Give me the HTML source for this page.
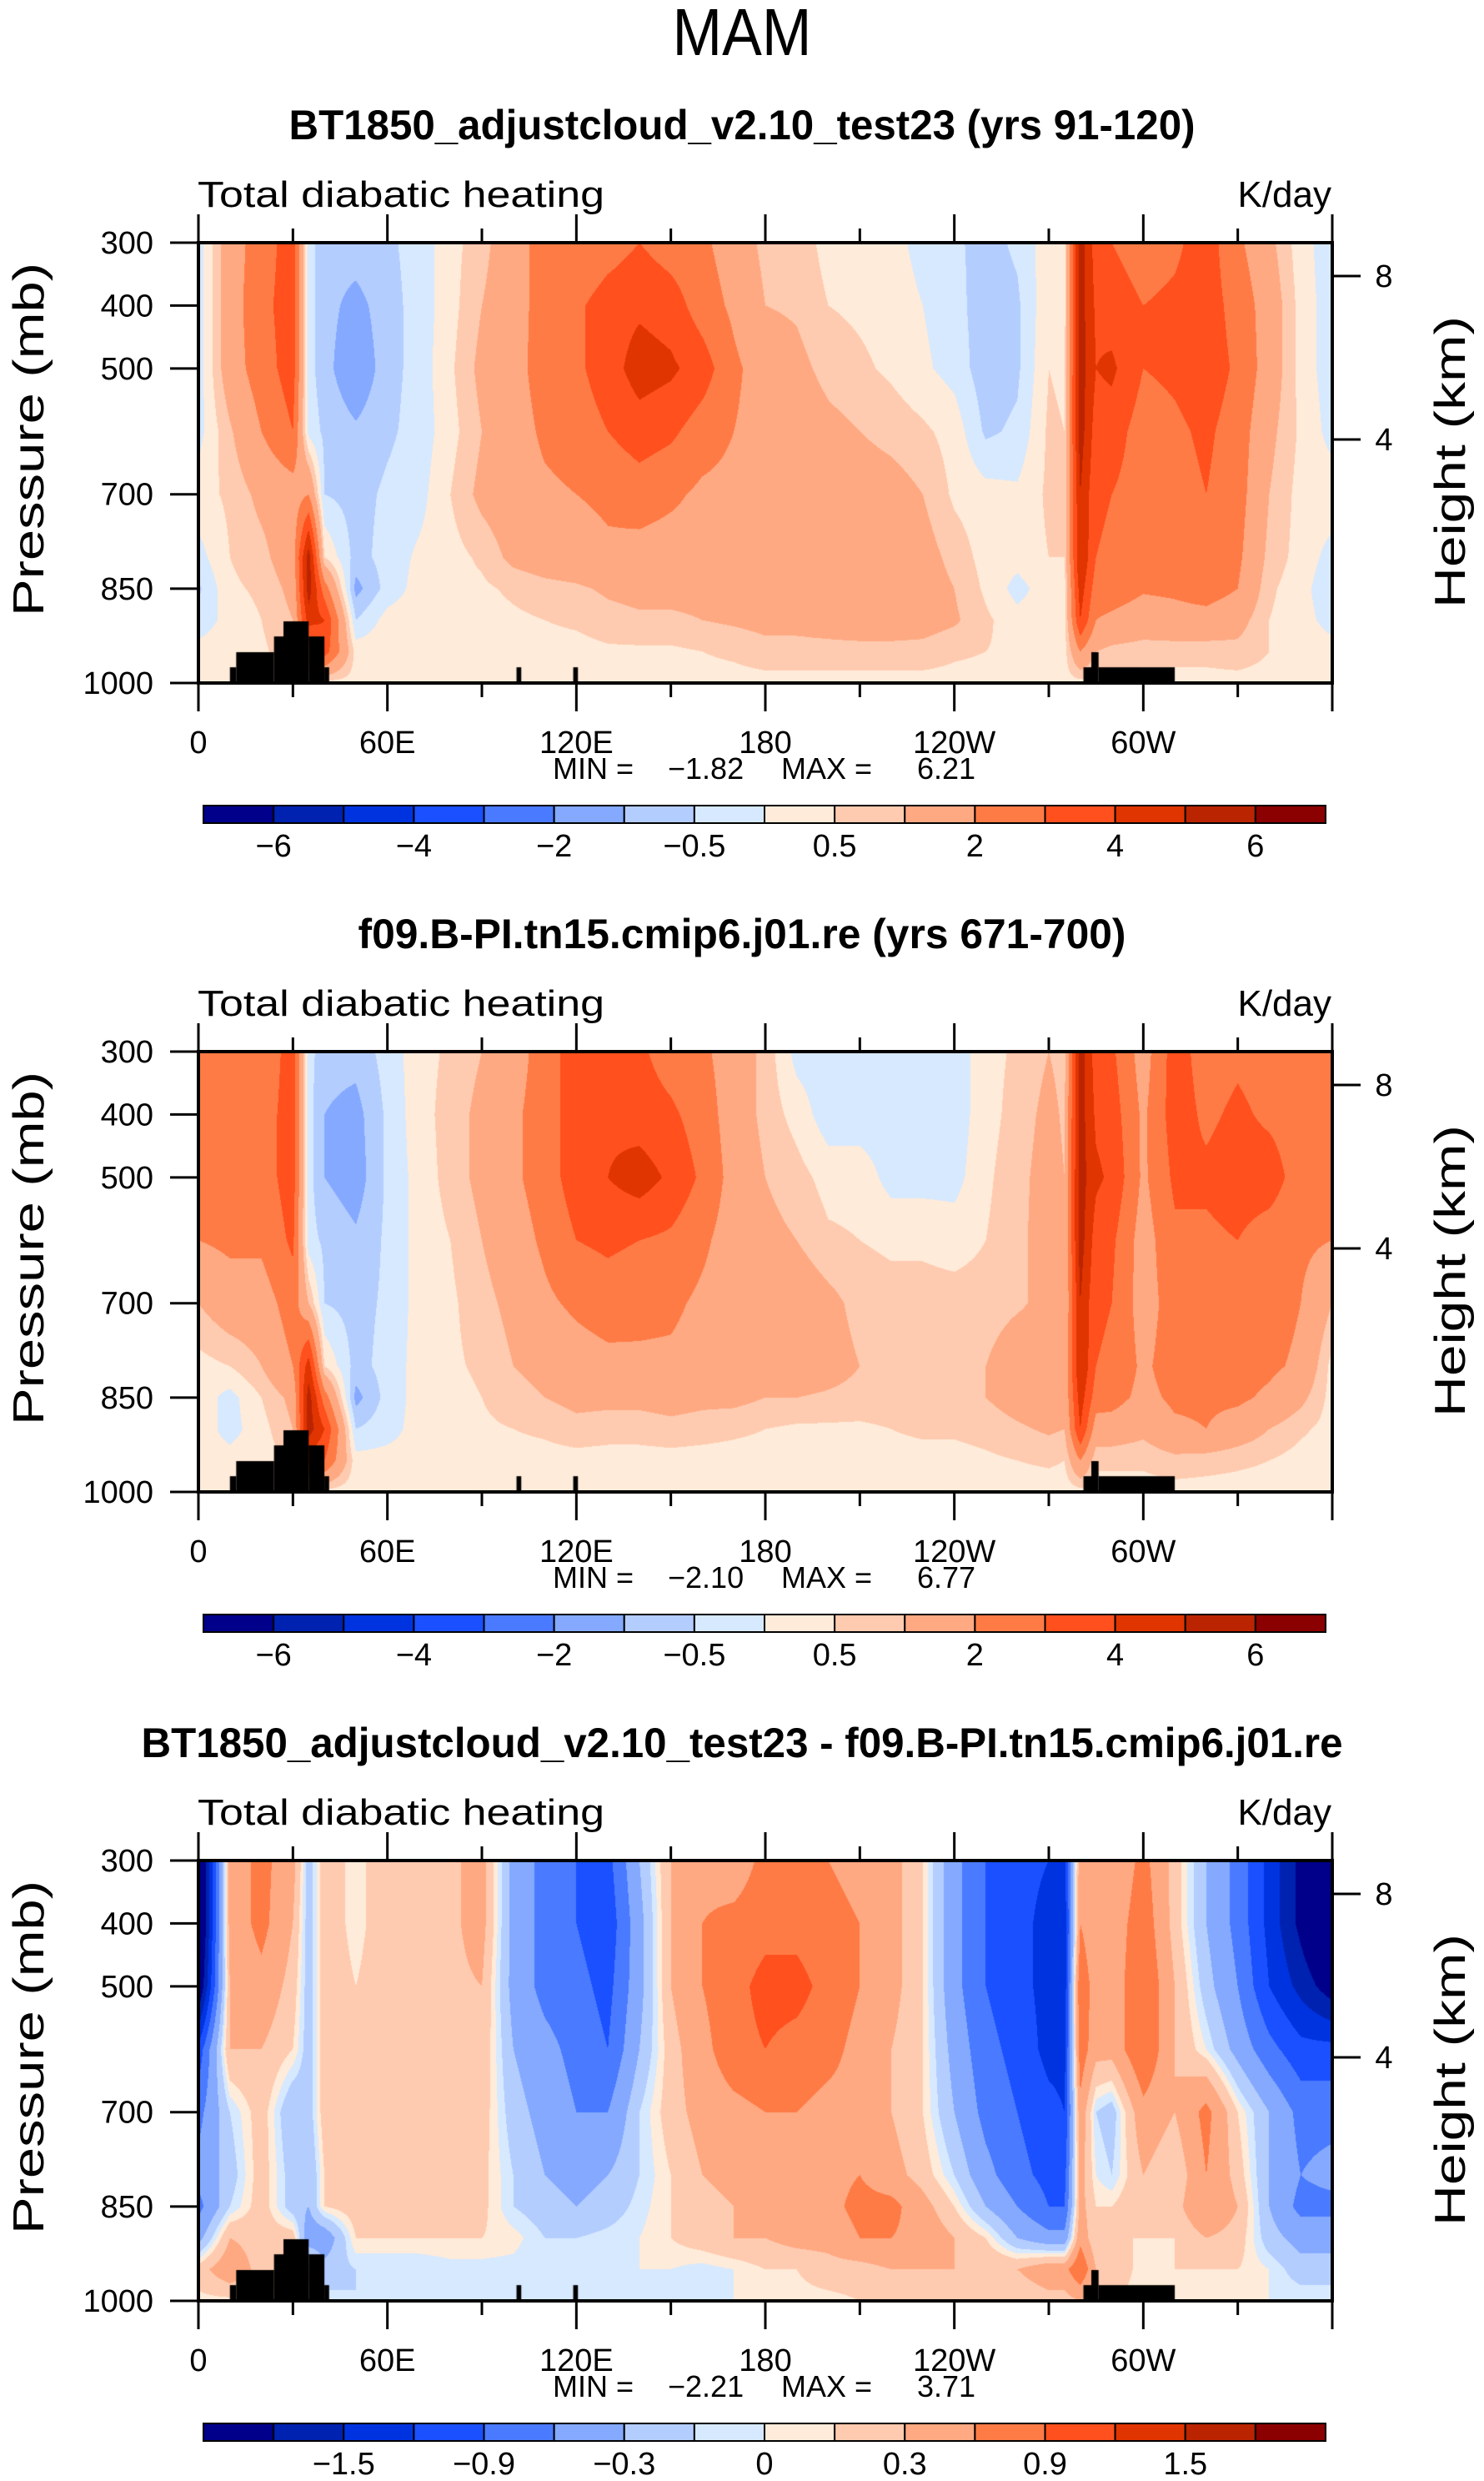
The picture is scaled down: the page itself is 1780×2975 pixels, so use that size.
<!DOCTYPE html>
<html><head><meta charset="utf-8">
<style>
html,body{margin:0;padding:0;background:#fff;}
#wrap{position:relative;width:1780px;height:2975px;overflow:hidden;background:#fff;}
canvas{position:absolute;}
svg{position:absolute;left:0;top:0;}
text{font-family:"Liberation Sans",sans-serif;fill:#000;}
</style></head>
<body>
<div id="wrap">
<canvas id="c0"></canvas>
<canvas id="c1"></canvas>
<canvas id="c2"></canvas>
<svg id="ov" width="1780" height="2975"></svg>
</div>
<script>
const lons = [0,10,20,30,35,40,50,60,70,80,90,100,110,120,130,140,150,160,170,180,190,200,210,220,230,240,250,260,270,275,280,285,290,300,310,320,330,340,350,360];
const levels = [300,400,500,600,700,800,850,900,950,1000];
const field1 = [
[-0.3,1.5,2.5,3.5,-0.3,-0.8,-0.7,-0.6,-0.3,0.3,0.8,1.5,2.5,2.0,2.5,3.0,2.5,2.2,1.5,0.8,0.8,0.3,0.3,0.2,-0.2,-0.4,-0.7,-0.4,0.3,0.3,5.5,3.5,3.0,2.5,2.8,3.5,2.2,1.2,0.2,-0.3],
[-0.3,1.5,2.7,3.5,-0.3,-0.8,-1.2,-0.7,-0.3,0.3,1.0,1.5,2.5,2.8,3.5,3.8,3.5,2.5,1.8,1.0,0.9,0.5,0.4,0.3,0.0,-0.3,-0.8,-0.6,0.4,0.3,5.5,3.8,3.5,3.0,3.2,3.5,2.6,1.5,0.3,-0.3],
[-0.3,1.5,2.5,3.5,-0.3,-0.8,-1.5,-0.7,-0.3,0.4,1.2,1.6,2.5,2.8,3.5,4.5,4.2,3.5,2.2,1.5,1.2,0.8,0.6,0.4,0.1,-0.2,-0.8,-0.6,0.5,0.4,5.5,4.0,4.2,3.0,3.2,3.6,2.8,1.5,0.3,-0.3],
[-0.2,0.9,2.0,3.0,-0.2,-0.6,-0.9,-0.6,-0.3,0.3,1.0,1.5,2.2,2.5,3.0,3.5,3.2,2.5,2.0,1.6,1.5,1.2,1.0,0.8,0.6,0.3,-0.6,-0.4,0.6,0.5,5.5,3.5,3.5,2.5,2.8,3.2,2.5,1.2,0.4,-0.2],
[0.3,0.6,1.2,1.5,2.0,-0.5,-0.7,-0.4,-0.2,0.5,1.2,1.5,1.8,2.0,2.2,2.5,2.2,1.8,1.7,1.6,1.6,1.5,1.4,1.3,1.0,0.4,0.2,0.1,0.6,0.6,5.0,3.2,3.0,2.5,2.6,3.0,2.4,1.0,0.3,0.3],
[-0.2,0.5,0.8,1.5,5.5,0.5,-0.7,-0.3,0.1,0.3,0.6,1.2,1.4,1.5,1.8,1.6,1.5,1.5,1.5,1.5,1.6,1.6,1.6,1.5,1.3,0.8,0.3,0.2,0.5,0.5,5.0,3.0,2.8,2.3,2.5,2.8,2.2,0.8,0.3,-0.2],
[-0.6,0.4,0.6,1.2,5.5,2.5,-1.2,-0.3,0.2,0.3,0.4,0.6,0.8,0.9,1.1,1.2,1.2,1.2,1.4,1.5,1.5,1.6,1.6,1.6,1.4,1.0,0.4,-0.2,0.3,0.3,4.5,2.5,2.5,2.1,2.2,2.5,2.0,0.6,0.2,-0.4],
[-0.3,0.2,0.5,1.0,4.5,4.0,-0.5,0.2,0.3,0.3,0.3,0.4,0.5,0.6,0.8,0.9,0.9,1.0,1.1,1.2,1.2,1.3,1.4,1.4,1.3,1.1,0.6,0.2,0.3,0.3,4.0,2.0,1.8,1.5,1.6,1.6,1.3,0.5,0.2,-0.2],
[0.2,0.3,0.4,0.8,1.5,3.5,0.3,0.3,0.3,0.3,0.3,0.3,0.3,0.3,0.4,0.4,0.4,0.5,0.6,0.8,0.8,0.8,0.8,0.8,0.8,0.6,0.5,0.4,0.3,0.3,2.0,1.0,0.8,0.7,0.7,0.7,0.8,0.5,0.3,0.2],
[0.3,0.3,0.3,0.3,0.3,0.3,0.3,0.3,0.3,0.3,0.3,0.3,0.3,0.3,0.3,0.3,0.3,0.3,0.3,0.3,0.3,0.3,0.3,0.3,0.3,0.3,0.3,0.3,0.3,0.3,0.3,0.3,0.3,0.3,0.3,0.3,0.3,0.3,0.3,0.3]
];
const field2 = [
[2.5,2.5,2.2,3.5,-0.3,-0.8,-0.8,-0.3,0.3,0.6,1.0,1.5,2.5,3.5,3.5,3.2,2.5,2.2,1.5,0.8,-0.2,-0.3,-0.3,-0.3,-0.3,-0.3,0.3,0.6,1.0,0.8,5.5,3.5,3.2,1.5,3.5,2.5,2.8,2.5,2.0,2.0],
[3.0,2.6,2.5,3.5,-0.3,-1.0,-1.2,-0.4,0.3,0.7,1.2,1.8,2.5,3.5,3.8,3.5,3.2,2.5,1.5,0.8,0.3,-0.3,-0.3,-0.3,-0.3,-0.3,0.3,0.7,1.2,0.9,5.5,3.8,3.5,1.8,3.5,2.8,3.2,2.8,2.5,2.5],
[2.5,2.6,2.5,3.5,-0.3,-1.0,-1.3,-0.4,0.2,0.7,1.2,1.8,2.5,3.5,4.0,4.5,3.8,2.8,1.6,1.0,0.7,0.3,0.3,-0.2,-0.2,-0.2,0.4,0.8,1.3,1.0,5.5,4.2,3.8,1.8,3.2,3.2,3.5,3.5,2.5,2.5],
[2.0,2.2,2.2,3.2,-0.3,-0.6,-0.9,-0.4,0.2,0.5,1.0,1.5,2.2,3.0,3.2,3.0,2.8,2.2,1.5,1.2,1.0,0.6,0.5,0.4,0.4,0.3,0.5,0.8,1.4,1.0,5.5,3.5,3.2,1.5,2.8,2.8,3.0,2.5,2.2,2.0],
[1.0,1.5,1.5,2.5,1.0,-0.5,-0.7,-0.4,0.2,0.4,0.8,1.2,1.8,2.2,2.5,2.3,2.2,1.8,1.5,1.5,1.5,1.2,0.8,0.7,0.7,0.7,0.7,0.9,1.2,1.0,5.0,3.2,3.0,1.5,2.5,2.6,2.6,2.5,2.0,1.0],
[0.3,0.5,1.0,2.0,4.5,0.5,-0.7,-0.3,0.2,0.4,0.6,1.0,1.2,1.5,1.7,1.8,1.8,1.6,1.5,1.5,1.5,1.3,1.0,0.9,0.9,0.9,1.0,1.5,1.5,1.2,5.0,3.0,2.8,1.8,2.5,2.5,2.5,2.2,1.8,0.3],
[0.3,-0.2,0.5,1.2,5.5,2.5,-1.2,-0.3,0.2,0.3,0.5,0.8,1.0,1.2,1.2,1.2,1.3,1.2,1.2,1.0,1.0,0.9,0.8,0.8,0.8,0.9,1.0,1.3,1.5,1.2,4.5,2.5,2.4,1.7,2.2,2.2,2.2,1.8,1.2,0.3],
[0.3,-0.2,0.3,1.0,5.5,4.0,-0.5,-0.2,0.2,0.3,0.4,0.5,0.6,0.8,0.7,0.7,0.8,0.7,0.6,0.5,0.4,0.4,0.4,0.5,0.6,0.6,0.7,0.9,1.1,1.0,4.0,1.5,1.5,1.2,1.8,2.0,1.5,1.0,0.6,0.3],
[0.2,0.2,0.3,0.5,3.5,3.0,0.2,0.2,0.2,0.2,0.3,0.3,0.3,0.3,0.3,0.3,0.3,0.3,0.3,0.3,0.3,0.3,0.3,0.3,0.3,0.3,0.4,0.5,0.6,0.5,2.0,0.6,0.6,0.6,0.8,0.7,0.6,0.5,0.3,0.2],
[0.2,0.2,0.2,0.2,0.3,0.3,0.2,0.2,0.2,0.2,0.2,0.2,0.2,0.2,0.2,0.2,0.2,0.2,0.2,0.2,0.2,0.2,0.2,0.2,0.2,0.2,0.2,0.2,0.2,0.2,0.3,0.3,0.3,0.3,0.3,0.3,0.3,0.3,0.2,0.2]
];
const field3 = [
[-2.5,0.4,0.7,0.4,-0.2,0.2,0.05,0.2,0.2,0.25,0.4,-0.4,-0.7,-0.9,-1.0,-0.3,0.3,0.5,0.4,0.7,0.7,0.6,0.5,0.4,0.1,-0.5,-0.9,-1.1,-1.2,-1.3,0.5,0.3,0.3,0.7,0.2,-0.3,-0.7,-1.3,-1.9,-2.5],
[-2.5,0.4,0.7,0.3,-0.2,0.2,0.05,0.2,0.2,0.25,0.4,-0.4,-0.7,-0.9,-1.1,-0.4,0.3,0.6,0.7,0.8,0.8,0.7,0.6,0.4,0.1,-0.5,-0.9,-1.1,-1.3,-1.4,0.6,0.3,0.4,0.8,0.2,-0.3,-0.7,-1.3,-1.9,-2.5],
[-2.2,0.3,0.5,0.2,-0.2,0.2,0.1,0.2,0.2,0.25,0.3,-0.4,-0.7,-0.8,-1.0,-0.4,0.3,0.6,0.8,1.0,1.0,0.8,0.6,0.4,0.1,-0.5,-0.9,-1.1,-1.3,-1.4,0.9,0.4,0.4,0.9,0.3,-0.2,-0.6,-1.2,-1.6,-2.0],
[-1.1,0.3,0.3,0.1,-0.2,0.2,0.15,0.2,0.2,0.2,0.25,-0.3,-0.5,-0.7,-0.9,-0.3,0.2,0.5,0.8,0.9,0.8,0.7,0.5,0.3,0.1,-0.4,-0.8,-1.0,-1.3,-1.3,0.8,0.4,0.4,0.9,0.3,0.0,-0.4,-0.8,-1.1,-1.1],
[-0.7,-0.1,0.2,-0.3,-0.2,0.2,0.2,0.2,0.25,0.2,0.2,-0.2,-0.4,-0.6,-0.6,-0.1,0.2,0.4,0.5,0.6,0.6,0.5,0.5,0.3,0.1,-0.3,-0.7,-0.9,-1.1,-1.2,0.5,-0.1,-0.2,0.5,0.3,0.7,0.1,-0.3,-0.7,-0.7],
[-0.5,-0.2,0.2,-0.2,-0.3,0.1,0.2,0.2,0.2,0.2,0.15,-0.1,-0.3,-0.4,-0.3,-0.1,0.1,0.3,0.4,0.5,0.5,0.5,0.6,0.4,0.2,-0.1,-0.5,-0.8,-1.0,-1.0,0.4,0.0,-0.1,0.3,0.1,0.6,0.2,-0.3,-0.6,-0.5],
[-0.7,-0.1,0.2,-0.2,-0.3,0.1,0.2,0.2,0.2,0.2,0.15,-0.1,-0.2,-0.3,-0.2,-0.05,0.1,0.2,0.3,0.4,0.4,0.5,0.7,0.7,0.4,0.1,-0.3,-0.6,-0.9,-0.9,0.4,0.1,0.1,0.3,0.2,0.6,0.3,-0.3,-0.7,-0.7],
[-0.4,0.3,0.2,0.2,-0.5,-0.5,0.1,0.1,0.1,0.1,0.1,0.05,-0.1,-0.1,-0.05,0.0,0.1,0.2,0.3,0.3,0.4,0.4,0.6,0.6,0.5,0.3,0.1,-0.3,-0.5,-0.5,0.5,0.1,0.1,0.1,0.1,0.3,0.2,-0.2,-0.4,-0.4],
[0.2,0.5,0.2,0.2,0.2,-0.2,-0.1,-0.1,-0.1,-0.05,-0.05,-0.05,-0.1,-0.1,-0.05,0.0,0.0,-0.05,0.0,0.1,0.1,0.2,0.2,0.3,0.3,0.3,0.3,0.3,0.5,0.5,0.9,0.3,0.2,0.05,0.1,0.1,0.1,0.0,-0.2,-0.2],
[0.05,0.05,0.05,0.05,0.0,-0.05,-0.1,-0.1,-0.1,-0.1,-0.1,-0.1,-0.1,-0.1,-0.1,-0.1,-0.05,-0.05,0.0,0.05,0.05,0.05,0.1,0.1,0.1,0.1,0.1,0.1,0.2,0.2,0.3,0.1,0.1,0.05,0.05,0.05,0.05,0.0,0.0,0.0]
];
const topoLonStart = [10,12,24,27,35,40,101,119,281,283.5,285.8];
const topoLonEnd   = [12,24,27,35,40,41.5,102.5,120.5,283.5,285.8,310];
const topoTopP     = [975,951,926,902,926,975,975,975,975,951,975];
const bounds1 = [-6,-5,-4,-3,-2,-1,-0.5,0,0.5,1,2,3,4,5,6];
const bounds3 = [-1.8,-1.5,-1.2,-0.9,-0.6,-0.3,-0.1,0,0.1,0.3,0.6,0.9,1.2,1.5,1.8];
const cbLabels1 = ["−6","−4","−2","−0.5","0.5","2","4","6"];
const cbLabelIdx1 = [0,2,4,6,8,10,12,14];
const cbLabels3 = ["−1.5","−0.9","−0.3","0","0.3","0.9","1.5"];
const cbLabelIdx3 = [1,3,5,7,9,11,13];
const xTickLons = [0,60,120,180,240,300];
const xTickLabels = ["0","60E","120E","180","120W","60W"];
const pTicks = [300,400,500,700,850,1000];
const titles = ["BT1850_adjustcloud_v2.10_test23 (yrs 91-120)","f09.B-PI.tn15.cmip6.j01.re (yrs 671-700)","BT1850_adjustcloud_v2.10_test23 - f09.B-PI.tn15.cmip6.j01.re"];
const minVals = ["−1.82","−2.10","−2.21"];
const maxVals = ["6.21","6.77","3.71"];

const colors = ["#00008a","#0022b0","#0033e0","#1a50ff","#4a7aff","#84a9ff","#b4cdff","#d6e9ff","#ffebd9","#ffcbb0","#ffa982","#ff7b46","#ff501d","#e03500","#ba2400","#8b0000"];
const rgb = colors.map(c=>[parseInt(c.slice(1,3),16),parseInt(c.slice(3,5),16),parseInt(c.slice(5,7),16)]);

const X0=238, X1=1598, PH=528, DY=970;
const Y0s=[291,291+DY,291+2*DY];
function xOf(lon){return X0+(lon/360)*(X1-X0);}
function yOf(p,k){return Y0s[k]+(p-300)/700*PH;}
function binOf(v,b){let i=0;while(i<b.length&&v>=b[i])i++;return i;}

const NS="http://www.w3.org/2000/svg";
const ov=document.getElementById('ov');
function el(tag,attrs,parent){const e=document.createElementNS(NS,tag);for(const k in attrs)e.setAttribute(k,attrs[k]);(parent||ov).appendChild(e);return e;}
function txt(s,attrs,parent){const e=el('text',attrs,parent);e.textContent=s;return e;}

const fields=[field1,field2,field3];
const bset=[bounds1,bounds1,bounds3];

for(let k=0;k<3;k++){
  const cv=document.getElementById('c'+k);
  const W=X1-X0,H=PH;
  cv.width=W;cv.height=H;cv.style.left=X0+'px';cv.style.top=Y0s[k]+'px';
  const ctx=cv.getContext('2d');
  const img=ctx.createImageData(W,H);
  const F=fields[k],B=bset[k];
  const colI=new Int32Array(W), colS=new Float32Array(W);
  for(let px=0;px<W;px++){
    const lon=(px+0.5)/W*360;
    let i=0;while(i<lons.length-2&&lon>lons[i+1])i++;
    colI[px]=i;colS[px]=(lon-lons[i])/(lons[i+1]-lons[i]);
  }
  for(let py=0;py<H;py++){
    const p=300+(py+0.5)/H*700;
    let j=0;while(j<levels.length-2&&p>levels[j+1])j++;
    const t=(p-levels[j])/(levels[j+1]-levels[j]);
    for(let px=0;px<W;px++){
      const i=colI[px],s=colS[px];
      const v=(1-t)*((1-s)*F[j][i]+s*F[j][i+1])+t*((1-s)*F[j+1][i]+s*F[j+1][i+1]);
      const c=rgb[binOf(v,B)];
      const o=(py*W+px)*4;
      img.data[o]=c[0];img.data[o+1]=c[1];img.data[o+2]=c[2];img.data[o+3]=255;
    }
  }
  ctx.putImageData(img,0,0);
  ctx.fillStyle="#000";
  for(let m=0;m<topoLonStart.length;m++){
    const xa=xOf(topoLonStart[m])-X0,xb=xOf(topoLonEnd[m])-X0;
    const ya=yOf(topoTopP[m],k)-Y0s[k];
    ctx.fillRect(xa,ya,xb-xa,PH-ya);
  }

  const g=el('g',{});
  
  
  const Y0=Y0s[k],Yb=Y0+PH;
  const tt=txt(titles[k],{x:890,y:Y0-124,'font-size':50,'text-anchor':'middle','font-weight':'bold'},g);
  
  
  const lw=[1087,921,1441][k];
  tt.setAttribute('textLength',lw);tt.setAttribute('lengthAdjust','spacingAndGlyphs');
  const tl=txt("Total diabatic heating",{x:237,y:Y0-43,'font-size':44,textLength:488,lengthAdjust:'spacingAndGlyphs'},g);
  
  
  const tr=txt("K/day",{x:1597,y:Y0-43,'font-size':44,'text-anchor':'end'},g);
  
  
  const fr=el('rect',{x:X0,y:Y0,width:X1-X0,height:PH,fill:'none',stroke:'#000','stroke-width':4},g);
  
  
  for(let lon=0;lon<=360;lon+=30){
    const L=(lon%60===0)?34:17;const x=xOf(lon);
    const a=el('line',{x1:x,x2:x,y1:Y0,y2:Y0-L,stroke:'#000','stroke-width':3},g);
    
    
    const b=el('line',{x1:x,x2:x,y1:Yb,y2:Yb+L,stroke:'#000','stroke-width':3},g);
    
    
  }
  xTickLons.forEach((lon,i)=>{
    const t=txt(xTickLabels[i],{x:xOf(lon),y:Yb+84,'font-size':38,'text-anchor':'middle'},g);
    
    
  });
  pTicks.forEach(p=>{
    const y=yOf(p,k);
    const a=el('line',{x1:X0-34,x2:X0,y1:y,y2:y,stroke:'#000','stroke-width':3},g);
    
    
    const t=txt(String(p),{x:184,y:y+13,'font-size':38,'text-anchor':'end'},g);
    
    
  });
  [[8,331-291],[4,527-291]].forEach(h=>{
    const y=Y0+h[1];
    const a=el('line',{x1:X1,x2:X1+34,y1:y,y2:y,stroke:'#000','stroke-width':3},g);
    
    
    const t=txt(String(h[0]),{x:1660,y:y+13,'font-size':38,'text-anchor':'middle'},g);
    
    
  });
  const yt=txt("Pressure  (mb)",{x:0,y:0,'font-size':52,'text-anchor':'middle',transform:`translate(52,${Y0+236}) rotate(-90)`,textLength:424,lengthAdjust:'spacingAndGlyphs'},g);
  
  
  const ht=txt("Height  (km)",{x:0,y:0,'font-size':52,'text-anchor':'middle',transform:`translate(1757,${Y0+263}) rotate(-90)`,textLength:350,lengthAdjust:'spacingAndGlyphs'},g);
  
  
  const mm=[["MIN =",663],[minVals[k],801],["MAX =",937],[maxVals[k],1100]];
  mm.forEach(m=>{
    const t=txt(m[0],{x:m[1],y:Yb+115,'font-size':36},g);
    
    
  });
  const cb=el('g',{},g);
  
  
  const cx0=244,cx1=1590,cw=(cx1-cx0)/16,cy=Y0+675,ch=21;
  for(let b=0;b<16;b++){
    const r=el('rect',{x:cx0+b*cw,y:cy,width:cw,height:ch,fill:colors[b],stroke:'#000','stroke-width':2},cb);
    
    
  }
  const labs=k<2?cbLabels1:cbLabels3, idx=k<2?cbLabelIdx1:cbLabelIdx3;
  labs.forEach((s,i)=>{
    const t=txt(s,{x:cx0+(idx[i]+1)*cw,y:cy+61,'font-size':38,'text-anchor':'middle'},cb);
    
    
  });
}
const mt=txt("MAM",{x:890,y:66,'font-size':80,'text-anchor':'middle',textLength:167,lengthAdjust:'spacingAndGlyphs'});


</script>
</body></html>
